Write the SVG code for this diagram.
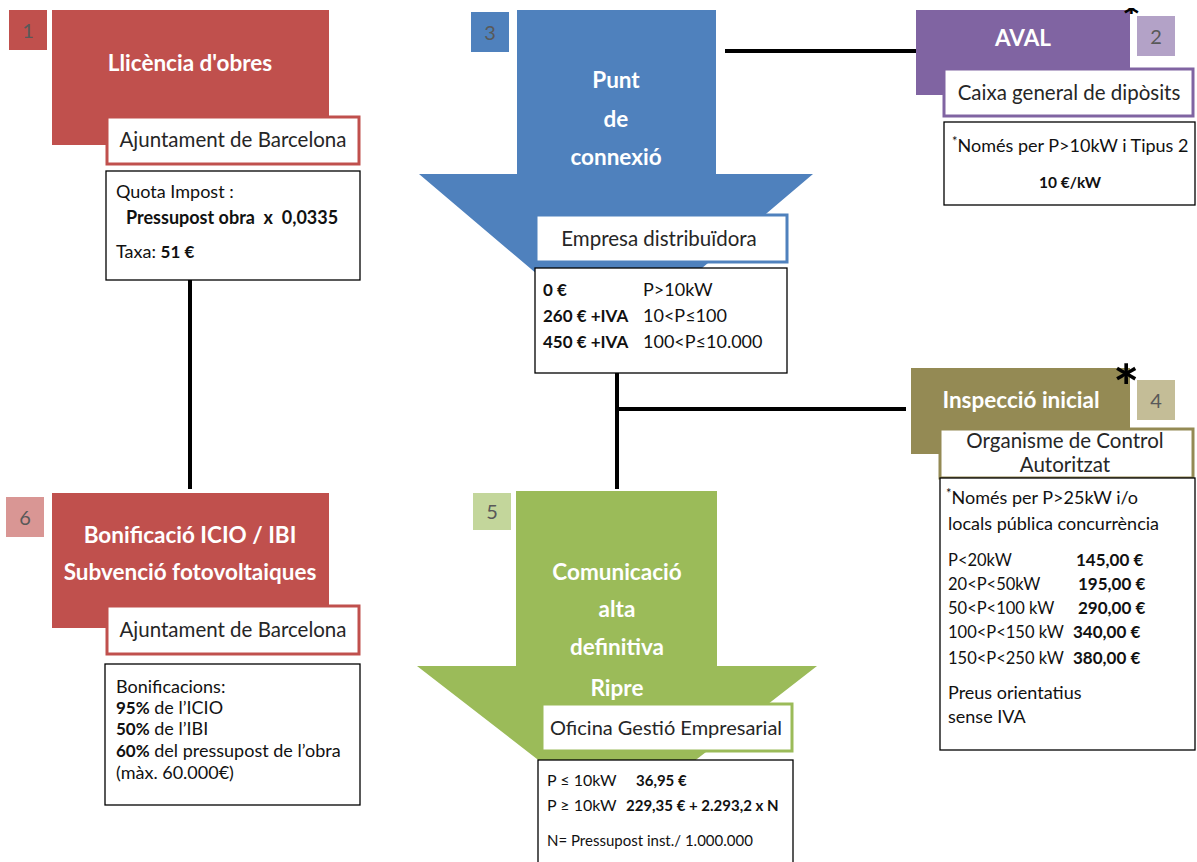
<svg xmlns="http://www.w3.org/2000/svg" width="1197" height="862" viewBox="0 0 1197 862">
<style>
text{font-family:Lato,"Open Sans","Liberation Sans",sans-serif;}
.t{fill:#fff;font-weight:bold;font-size:22.5px;text-anchor:middle;}
.num{fill:#595959;font-size:20px;text-anchor:middle;}
.sub{fill:#fff;stroke-width:3;}
.st{fill:#262626;font-size:20.5px;text-anchor:middle;}
.info{fill:#fff;stroke:#000;stroke-width:1.3;}
.it{fill:#111;font-size:18px;}
.b{font-weight:bold;font-size:17px;}
.conn{stroke:#000;stroke-width:4;fill:none;}
</style>
<defs>
<clipPath id="topclip"><rect x="0" y="8" width="1197" height="6"/></clipPath>
</defs>
<rect width="1197" height="862" fill="#fff"/>

<g id="connectors">
<line class="conn" x1="190" y1="280" x2="190" y2="489"/>
<line class="conn" x1="725" y1="51" x2="916" y2="51"/>
<line class="conn" x1="617" y1="373" x2="617" y2="489"/>
<line class="conn" x1="617" y1="409" x2="906" y2="409"/>
</g>

<g id="node1">
<rect x="52" y="10" width="277" height="135" fill="#c0504d"/>
<rect x="9" y="10" width="38" height="40" fill="#c0504d"/>
<text class="num" x="28" y="38">1</text>
<text class="t" x="190" y="71">Llicència d'obres</text>
<rect class="sub" x="107" y="117" width="252" height="47" stroke="#c0504d"/>
<text class="st" x="233" y="147">Ajuntament de Barcelona</text>
<rect class="info" x="106" y="171" width="254" height="109"/>
<text class="it" x="116" y="198">Quota Impost :</text>
<text class="it b" x="126" y="224" style="font-size:18px" xml:space="preserve">Pressupost obra  x  0,0335</text>
<text class="it" x="116" y="258">Taxa: <tspan class="b">51 €</tspan></text>
</g>

<g id="node3">
<path d="M517 10 H716 V174 H813 L616 341 L419 174 H517 Z" fill="#4f81bd"/>
<rect x="471" y="12" width="38" height="40" fill="#4f81bd"/>
<text class="num" x="490" y="40">3</text>
<text class="t" x="616" y="88">Punt</text>
<text class="t" x="616" y="127">de</text>
<text class="t" x="616" y="165">connexió</text>
<rect class="sub" x="536" y="215" width="251" height="47" stroke="#4f81bd"/>
<text class="st" x="659" y="246">Empresa distribuïdora</text>
<rect class="info" x="535" y="268" width="252" height="105"/>
<text class="it b" x="543" y="296">0 €</text>
<text class="it" x="643" y="296">P&gt;10kW</text>
<text class="it b" x="543" y="322">260 € +IVA</text>
<text class="it" x="643" y="322">10&lt;P≤100</text>
<text class="it b" x="543" y="348">450 € +IVA</text>
<text class="it" x="643" y="348">100&lt;P≤10.000</text>
</g>

<g id="node2">
<rect x="916" y="10" width="214" height="85" fill="#8064a2"/>
<rect x="1137" y="16" width="38" height="40" fill="#b3a2c7"/>
<text class="num" x="1156" y="44">2</text>
<text class="t" x="1023" y="46">AVAL</text>
<text x="1122" y="34" font-size="44" font-weight="bold" fill="#000" clip-path="url(#topclip)">*</text>
<rect class="sub" x="944" y="69" width="249" height="47" stroke="#8064a2"/>
<text class="st" x="1069" y="100">Caixa general de dipòsits</text>
<rect class="info" x="944" y="122" width="251" height="83"/>
<text class="it" x="952" y="152"><tspan font-size="13" dy="-6">*</tspan><tspan dy="6">Només per P&gt;10kW i Tipus 2</tspan></text>
<text class="it b" x="1070" y="188" text-anchor="middle" style="font-size:15.5px">10 €/kW</text>
</g>

<g id="node4">
<rect x="911" y="368" width="219" height="86" fill="#948a54"/>
<rect x="1137" y="380" width="38" height="40" fill="#c4bd97"/>
<text class="num" x="1156" y="408">4</text>
<text x="1113" y="410" font-size="62" font-weight="bold" fill="#000">*</text>
<text class="t" x="1021" y="408">Inspecció inicial</text>
<rect class="sub" x="940" y="429" width="253" height="49" stroke="#948a54"/>
<text class="st" x="1065" y="448">Organisme de Control</text>
<text class="st" x="1065" y="472">Autoritzat</text>
<rect class="info" x="940" y="478" width="255" height="272"/>
<text class="it" x="946" y="504"><tspan font-size="13" dy="-6">*</tspan><tspan dy="6">Només per P&gt;25kW i/o</tspan></text>
<text class="it" x="948" y="530">locals pública concurrència</text>
<text class="it" x="948" y="566" style="font-size:16.5px">P&lt;20kW</text><text class="it b" x="1076" y="566">145,00 €</text>
<text class="it" x="948" y="590" style="font-size:16.5px">20&lt;P&lt;50kW</text><text class="it b" x="1078" y="590">195,00 €</text>
<text class="it" x="948" y="614" style="font-size:16.5px">50&lt;P&lt;100 kW</text><text class="it b" x="1078" y="614">290,00 €</text>
<text class="it" x="948" y="638" style="font-size:16.5px">100&lt;P&lt;150 kW</text><text class="it b" x="1073" y="638">340,00 €</text>
<text class="it" x="948" y="664" style="font-size:16.5px">150&lt;P&lt;250 kW</text><text class="it b" x="1073" y="664">380,00 €</text>
<text class="it" x="948" y="699">Preus orientatius</text>
<text class="it" x="948" y="723">sense IVA</text>
</g>

<g id="node5">
<path d="M516 491 H717 V666 H817 L617 821 L417 666 H516 Z" fill="#9bbb59"/>
<rect x="473" y="493" width="38" height="37" fill="#c3d69b"/>
<text class="num" x="492" y="519">5</text>
<text class="t" x="617" y="580">Comunicació</text>
<text class="t" x="617" y="617">alta</text>
<text class="t" x="617" y="655">definitiva</text>
<text class="t" x="617" y="696">Ripre</text>
<rect class="sub" x="542" y="704" width="250" height="47" stroke="#9bbb59"/>
<text class="st" x="666" y="735" style="font-size:20px">Oficina Gestió Empresarial</text>
<rect class="info" x="538" y="760" width="255" height="106"/>
<text class="it" x="547" y="786" style="font-size:16px">P ≤ 10kW</text><text class="it b" x="636" y="786" style="font-size:15px">36,95 €</text>
<text class="it" x="547" y="811" style="font-size:16px">P ≥ 10kW</text><text class="it b" x="626" y="811" style="font-size:15px">229,35 € + 2.293,2 x N</text>
<text class="it" x="547" y="846" style="font-size:15px">N= Pressupost inst./ 1.000.000</text>
</g>

<g id="node6">
<rect x="52" y="493" width="277" height="135" fill="#c0504d"/>
<rect x="6" y="497" width="38" height="40" fill="#d99694"/>
<text class="num" x="25" y="525">6</text>
<text class="t" x="190" y="543">Bonificació ICIO / IBI</text>
<text class="t" x="190" y="580">Subvenció fotovoltaiques</text>
<rect class="sub" x="107" y="606" width="252" height="48" stroke="#c0504d"/>
<text class="st" x="233" y="637">Ajuntament de Barcelona</text>
<rect class="info" x="105" y="664" width="255" height="141"/>
<text class="it" x="116" y="693">Bonificacions:</text>
<text class="it" x="116" y="714"><tspan class="b">95%</tspan> de l’ICIO</text>
<text class="it" x="116" y="735"><tspan class="b">50%</tspan> de l’IBI</text>
<text class="it" x="116" y="757"><tspan class="b">60%</tspan> del pressupost de l’obra</text>
<text class="it" x="116" y="779">(màx. 60.000€)</text>
</g>
</svg>
